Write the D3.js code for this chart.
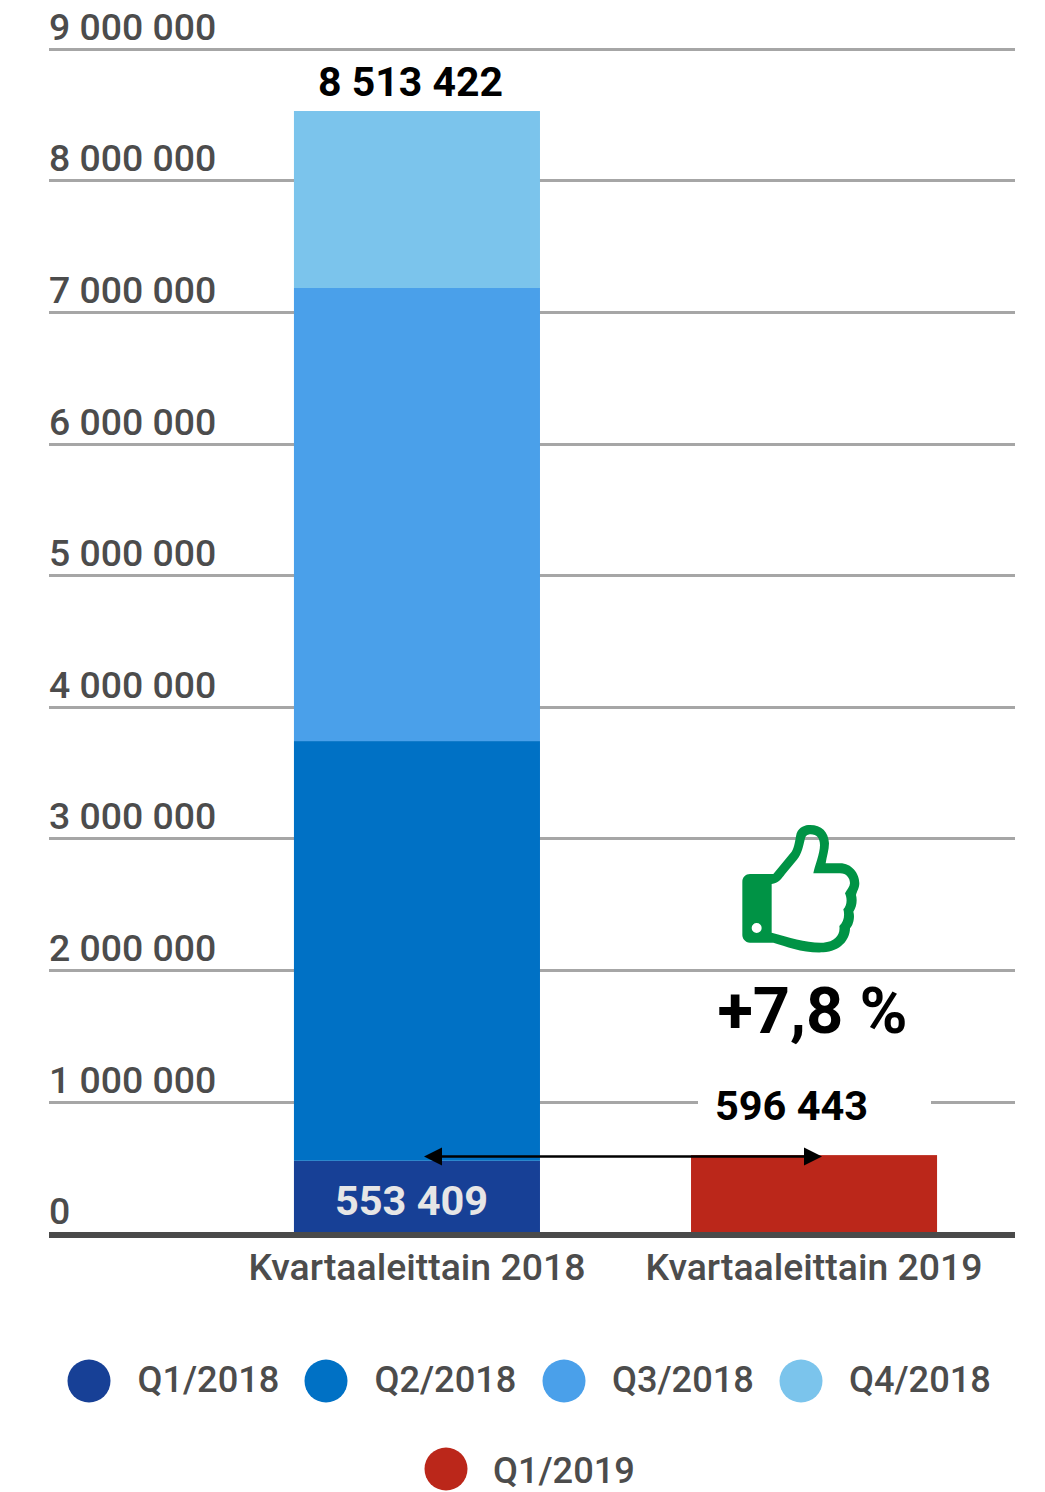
<!DOCTYPE html>
<html><head><meta charset="utf-8">
<script src="https://cdnjs.cloudflare.com/ajax/libs/d3/7.8.5/d3.min.js"></script>
<style>html,body{margin:0;padding:0;background:#fff;overflow:hidden}svg{display:block}text{font-family:Roboto,sans-serif}</style>
</head><body><svg id="c" width="1045" height="1492"></svg>
<script>
const categories = ["Kvartaaleittain 2018", "Kvartaaleittain 2019"];
const seriesNames = ["Q1/2018", "Q2/2018", "Q3/2018", "Q4/2018", "Q1/2019"];
const seriesColors = ["#174096", "#0071c5", "#4aa0ea", "#7bc4ec", "#bb271a"];
const q1_2018 = [553409, 0];
const q2_2018 = [3189600, 0];
const q3_2018 = [3443000, 0];
const q4_2018 = [1345000, 0];
const q1_2019 = [0, 596443];
const yTicks = [0, 1000000, 2000000, 3000000, 4000000, 5000000, 6000000, 7000000, 8000000, 9000000];
const yTickLabels = ["0", "1 000 000", "2 000 000", "3 000 000", "4 000 000", "5 000 000", "6 000 000", "7 000 000", "8 000 000", "9 000 000"];
const totalLabels = ["8 513 422", "596 443"];
const insideLabel = "553 409";
const changeLabel = "+7,8 %";

const series = [q1_2018, q2_2018, q3_2018, q4_2018, q1_2019];
const svg = d3.select("#c");
const y = d3.scaleLinear().domain([0, 9000000]).range([1233.6, 49.3]);
const x = d3.scaleBand().domain(categories).range([218.5, 1012.5]).paddingInner(0.3804).paddingOuter(0.19);

// gridlines and tick labels
yTicks.forEach((t, i) => {
  const gy = Math.floor(y(t)) + 0.5;
  if (t > 0) svg.append("line").attr("x1", 49).attr("x2", 1015).attr("y1", gy).attr("y2", gy)
    .attr("stroke", "#a6a6a6").attr("stroke-width", 3);
  svg.append("text").attr("x", 49).attr("y", gy - 10).attr("font-size", 37.4).attr("font-weight", 500).attr("fill", "#4c4c4c")
    .text(yTickLabels[i]);
});

// stacked bars
const stack = d3.stack().keys(d3.range(series.length)).value((d, k) => series[k][d]);
const layers = stack(d3.range(categories.length));
svg.append("g").selectAll("g").data(layers).join("g").attr("fill", (d, i) => seriesColors[i])
  .selectAll("rect").data(d => d.map((v, j) => ({v, j}))).join("rect")
  .attr("x", d => x(categories[d.j])).attr("width", x.bandwidth())
  .attr("y", d => y(d.v[1])).attr("height", d => y(d.v[0]) - y(d.v[1]));

// baseline
svg.append("rect").attr("x", 49).attr("width", 966).attr("y", 1232).attr("height", 6).attr("fill", "#4a4a4a");

// category labels
categories.forEach(c => svg.append("text").attr("x", x(c) + x.bandwidth() / 2).attr("y", 1280)
  .attr("text-anchor", "middle").attr("font-size", 37.4).attr("font-weight", 500).attr("fill", "#4c4c4c").text(c));

// value labels
svg.append("text").attr("x", 410.5).attr("y", 95.5).attr("text-anchor", "middle").attr("font-size", 41)
  .attr("font-weight", 700).attr("fill", "#000").text(totalLabels[0]);
svg.append("rect").attr("x", 698).attr("width", 233).attr("y", 1085).attr("height", 40).attr("fill", "#fff");
svg.append("text").attr("x", 791.5).attr("y", 1120).attr("text-anchor", "middle").attr("font-size", 41.5)
  .attr("font-weight", 700).attr("fill", "#000").text(totalLabels[1]);
svg.append("text").attr("x", 411.5).attr("y", 1214.5).attr("text-anchor", "middle").attr("font-size", 41.5)
  .attr("font-weight", 700).attr("fill", "#e6e6e6").text(insideLabel);
svg.append("text").attr("x", 812.5).attr("y", 1032.5).attr("text-anchor", "middle").attr("font-size", 65)
  .attr("font-weight", 700).attr("fill", "#000").text(changeLabel);

// arrow
svg.append("line").attr("x1", 436).attr("x2", 810).attr("y1", 1156.5).attr("y2", 1156.5).attr("stroke", "#000").attr("stroke-width", 2.5);
svg.append("path").attr("d", "M424 1156.5L442 1147.5V1165.5Z");
svg.append("path").attr("d", "M822 1156.5L804 1147.5V1165.5Z");

// thumb icon
svg.append("path").attr("transform", "translate(680,800) scale(0.33333)").attr("fill", "#009345").attr("fill-rule", "evenodd")
  .attr("d", "M187 245C187 232 197 222 210 222L280 222L335 155C345 140 345 120 350 100C358 80 375 75 390 75C425 75 445 95 447 130C447 150 440 170 437 190L480 190C515 190 538 220 538 250C538 265 530 275 528 285C532 300 530 320 520 335C525 350 520 375 510 385C510 420 480 455 430 457C370 460 320 440 280 428L210 428C195 428 187 415 187 405Z" +
  "M275 252C295 250 305 235 315 222L350 180C365 165 370 135 375 115C378 105 385 103 392 103C410 103 420 115 420 135C420 160 405 195 400 220L480 220C500 220 510 235 510 250C510 260 500 270 495 280C502 295 502 315 490 328C495 345 492 365 478 378C482 405 465 425 430 428C380 430 330 412 275 398Z" +
  "M215 384A15 15 0 1 0 245 384A15 15 0 1 0 215 384Z");

// legend
const legendX = [89, 326, 564, 801, 446];
const legendY = [1381, 1381, 1381, 1381, 1469];
const legendTextX = [137.5, 374.5, 612, 849, 493];
const legendTextY = [1392, 1392, 1392, 1392, 1483];
seriesNames.forEach((n, i) => {
  svg.append("circle").attr("cx", legendX[i]).attr("cy", legendY[i]).attr("r", 21.5).attr("fill", seriesColors[i]);
  svg.append("text").attr("x", legendTextX[i]).attr("y", legendTextY[i]).attr("font-size", 36.2).attr("font-weight", 500).attr("fill", "#4c4c4c").text(n);
});
</script></body></html>
